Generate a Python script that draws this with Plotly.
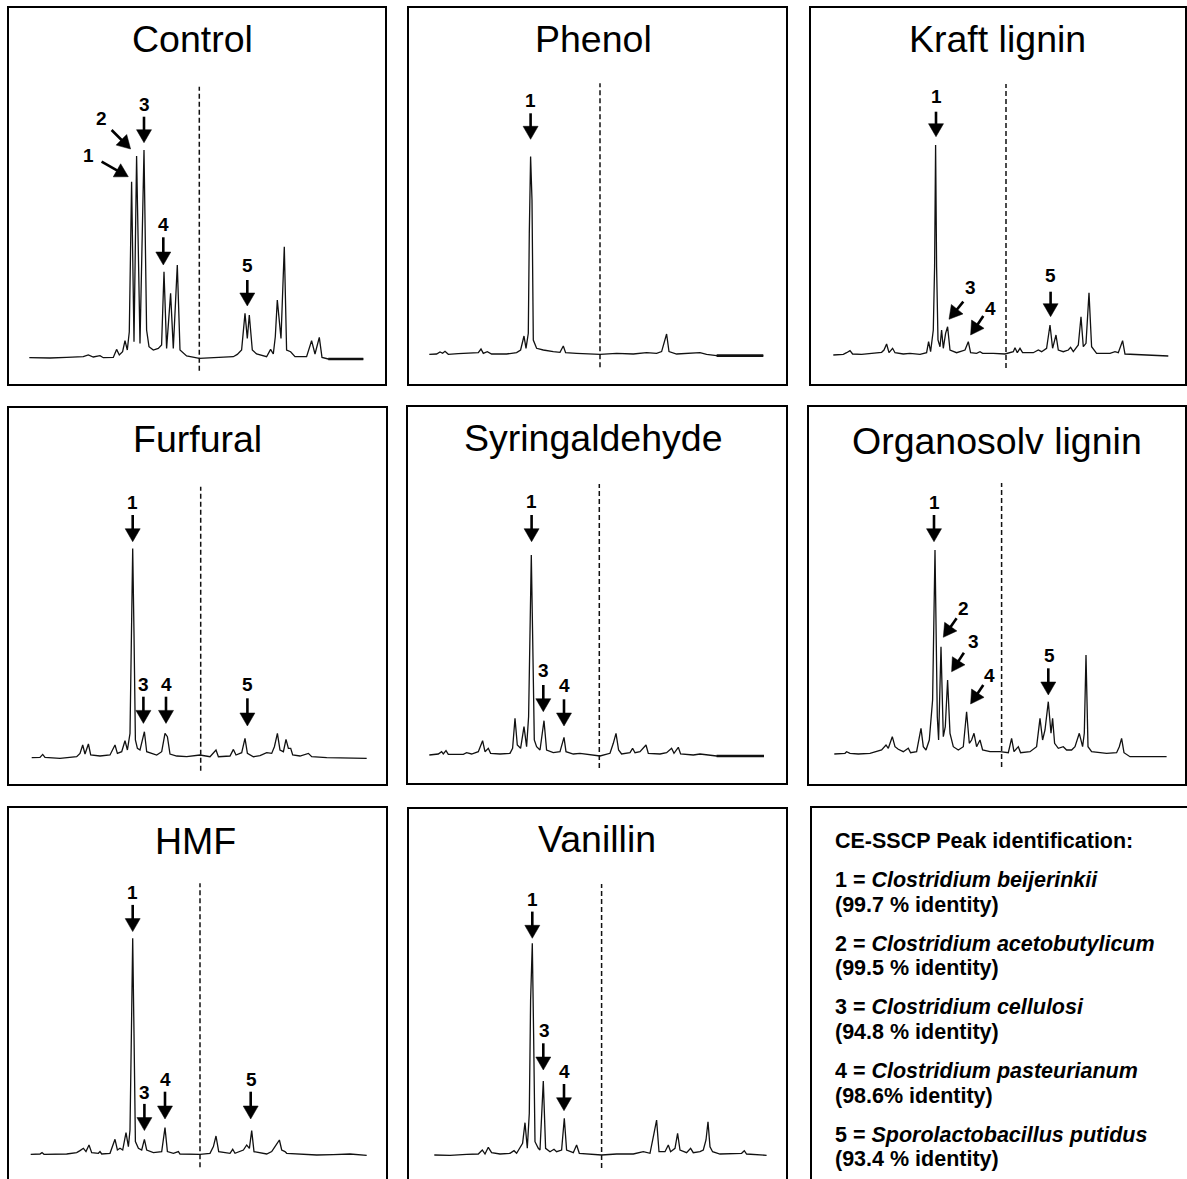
import math
import plotly.graph_objects as go

# ---------------------------------------------------------------------------
# CE-SSCP electropherograms (migration position vs. fluorescence, a.u.)
# ---------------------------------------------------------------------------
PANEL_TITLES = ["Control", "Phenol", "Kraft lignin", "Furfural",
                "Syringaldehyde", "Organosolv lignin", "HMF", "Vanillin"]

CONTROL_X = [0, 20.7, 37.3, 54, 59, 64, 70.7, 74, 84, 87.3, 90, 93.3, 95.7, 98, 100, 102.3,
             104.7, 107.3, 110.7, 114.7, 117.3, 119.7, 124, 129, 132.3, 134.7, 137.3, 141.3,
             144, 148, 150.7, 157.3, 170, 187.3, 204, 208, 212.3, 215.7, 218, 220, 223, 227.3,
             237.3, 241.3, 244, 246, 248, 251.7, 255, 257.3, 261.3, 265.7, 277.3, 282.3, 285.7,
             290, 292.7, 299, 334]
CONTROL_Y = [0, -0.3, 0.3, 1, 2.7, 0.7, 2, 0, 0.3, 8.3, 2.7, 6, 17, 7.7, 26, 176, 16, 201.7,
             14.3, 207.7, 27.7, 11, 7.7, 9.3, 12.7, 86, 9.3, 64.3, 9.3, 92.7, 7.7, 1.7, -0.7,
             0.3, 1, 3.3, 7.7, 44.3, 19.3, 42.7, 7.7, 3.7, 1, 8.3, 3.7, 21, 57.7, 19.3, 111,
             7.7, 6, 1, 1, 17, 3.7, 20.3, 0.3, -1.3, -1.3]

PHENOL_X = [0, 7.3, 10.7, 13.3, 15.7, 19, 29, 40.7, 49, 51.7, 54, 58, 62.3, 77.3, 87.3, 91.3,
            94.7, 96.7, 99, 100, 101.3, 102.7, 104, 107.3, 114, 124, 130.7, 134, 136.3, 147.3,
            157.3, 170.7, 187.3, 204, 217.3, 227.3, 232.3, 237.3, 239.7, 247.3, 270.7, 277.3,
            287.3, 334]
PHENOL_Y = [0, 0.3, 2.3, 1, 3, 0, 0.7, 1, 1.7, 5.3, 1, 2.7, 0.3, 0.3, 1.7, 4.3, 18.3, 6, 21,
            121, 197.7, 154.3, 14.3, 6, 4.3, 2.7, 2, 8.3, 1.7, 1, 0.3, 0, 1, 0.3, 1.7, 1, 2.7,
            20.3, 2.7, 0.3, 1.7, 0, -1.3, -1.3]

KRAFT_X = [0, 10, 13.3, 16.7, 19.3, 28.3, 48.3, 50.7, 53.3, 55.7, 59.3, 61.7, 70, 76.7, 86.7,
           93.3, 95.3, 97.3, 100, 101.3, 102.3, 103.3, 104.7, 106.7, 108.3, 110, 112.3, 114.3,
           116.7, 123.3, 131.7, 135, 137.3, 143.3, 146.7, 149.3, 160, 171.7, 180, 181.7, 184,
           186.7, 189.3, 200, 205, 208.3, 213.3, 216.7, 219.3, 222.7, 225, 230, 235, 237.3, 240,
           245, 247.7, 250, 252.7, 255.7, 258.3, 263.3, 276.7, 281.7, 285, 289.3, 291.7, 300, 335]
KRAFT_Y = [0, 0.7, 2.3, 4.3, 1, 0.7, 2.7, 5, 11, 2.3, 6.7, 2.3, 1, 1.7, 0.7, 2.3, 13.3, 3.3, 25,
           88.3, 210, 88.3, 15, 8.3, 25, 6.7, 21.7, 28.3, 5, 2.3, 5, 13.3, 2.3, 1.7, 3.3, 1.7,
           1.7, 1, 3.3, 7.3, 2.3, 6.7, 2.3, 2.3, 5, 3.3, 6.7, 30, 6.7, 20, 5, 3.3, 5, 7.7, 3.3,
           10, 38.3, 8.3, 11.7, 62.3, 8.3, 1.7, 1.7, 3.3, 2.3, 14.3, 1, 0.7, -1]

FURFURAL_X = [0, 8.3, 11, 13.3, 28.3, 45, 48.3, 51, 53.3, 56.7, 59, 68.3, 78.3, 83.3, 85.7, 90,
              93.3, 95.7, 98.3, 99.7, 101, 102.3, 103.7, 105.7, 108.3, 112.7, 115, 125, 130,
              133.3, 135.7, 138.3, 145, 155, 168.3, 178.3, 184.3, 186.7, 198.3, 201.7, 204.3,
              210, 213.3, 215.7, 221.7, 228.3, 235, 240, 242.7, 245.7, 248.3, 251.7, 254.3,
              256.7, 259, 261, 268.3, 276.7, 280, 295, 335]
FURFURAL_Y = [0, 0.3, 3.3, 0.3, -0.7, 1, 4.3, 12.7, 3.7, 13.7, 2.7, 1.7, 2.7, 12.7, 4.3, 6, 17,
              7.7, 24.3, 124.3, 209.3, 124.3, 17.7, 9.3, 7.7, 26, 6, 2.7, 6, 24.3, 21, 3.7, 1.7,
              1, 2.7, 1, 7.7, 1, 1.7, 8.3, 2.7, 5, 19.3, 4.3, 1, 2, 5, 4.3, 11, 24.3, 7.7, 6,
              18.3, 9.3, 9.3, 2.7, 1.7, 4.3, 1, 0, -0.7]

SYRINGALDEHYDE_X = [0, 9, 12.3, 14, 16.7, 19, 34, 37.3, 42.3, 49, 53.3, 55.7, 59, 61.3, 70.7,
                    80.7, 83.3, 85.7, 88, 91.3, 94.7, 97.3, 99.3, 100.7, 102, 103.3, 105, 107.3,
                    110.7, 114.7, 117.3, 124, 130.7, 134.7, 136.7, 144, 150.7, 170.7, 180.7, 184,
                    186.7, 189.3, 192.3, 200.7, 203.3, 205.7, 210.7, 216.7, 219, 230.7, 237.3,
                    242.3, 244.7, 249, 251.3, 264, 270.7, 287.3, 334.7]
SYRINGALDEHYDE_Y = [0, 1, 3.3, 1, 4.3, 0.7, 0.7, 2.3, 1, 3.3, 14.3, 3.3, 6.7, 1.7, 1, 1.7, 6.7,
                    36.7, 10, 6.7, 28.3, 8.3, 38.3, 125, 200, 121.7, 15, 8.3, 5, 34.3, 5, 2.3,
                    3.3, 17.7, 3.3, 1, 1.7, -1, 1.7, 11.7, 21.7, 5, 1, 2.3, 6.7, 2.3, 3.3, 10,
                    1.7, 1, 2.3, 6.7, 1.7, 7.7, 1, 0, 1, -1, -1]

ORGANOSOLV_X = [0, 10.7, 12.3, 15.7, 24, 35.7, 47.3, 51.7, 54, 58, 60.7, 64, 69, 74, 76.3, 82.3,
                86.7, 89, 91.7, 95, 98.3, 100.7, 103, 104.3, 106.7, 109, 111, 113.3, 115.7, 119,
                124, 129, 132.3, 135, 137.3, 139.7, 142.3, 145.7, 148.3, 155.7, 165.7, 174,
                177.3, 179.7, 184, 186.3, 195.7, 202.3, 205.7, 208.3, 210.7, 214, 216.7, 218.3,
                220.3, 224, 229, 232.3, 237.3, 240.7, 245, 248.3, 250, 251.7, 253.7, 257.3,
                272.3, 282.3, 285, 287.3, 289.7, 295.7, 332.3]
ORGANOSOLV_Y = [0, 0.7, 2.3, 0.7, 0, 0.7, 4, 9, 5.7, 17.3, 7.3, 4.7, 2.3, 5.7, 1.3, 2.3, 25.7,
                7.3, 4, 14, 54, 204, 37.3, 14, 107.3, 17.3, 27.3, 74, 20.7, 7.3, 4, 7.3, 42.3,
                10.7, 14, 20.7, 7.3, 14, 4, 2.3, 2.3, 1.3, 15.7, 2.3, 7.3, 1.3, 2.3, 7.3, 35.7,
                14, 24, 52.3, 20.7, 35.7, 10.7, 5.7, 7.3, 4, 4, 7.3, 20.7, 7.3, 20.7, 99, 7.3,
                2.3, 0.7, 1.3, 7.3, 15.7, 1.3, -2.7, -2.7]

HMF_X = [0, 9.3, 11.3, 13.3, 36, 46, 49.3, 52.7, 55.3, 58.3, 61, 67.7, 69.3, 71, 79.3, 84.3,
         86.7, 89.3, 92, 95.3, 97.7, 99.3, 100.7, 102, 103.3, 104.7, 107.7, 111, 113.7, 116,
         122.7, 131, 134.3, 136.7, 142.7, 147.7, 149.3, 169.3, 179.3, 182.7, 185.3, 188, 199.3,
         202, 204.3, 212.7, 216, 218.7, 221, 223.3, 236, 241, 244.3, 248.7, 251, 254.3, 256,
         269.3, 286, 302.7, 319.3, 336]
HMF_Y = [0, 0.3, 1.7, 0, 0.3, 1.7, 3.7, 6, 2.7, 9.3, 1.7, 1, 2.7, 0.3, 1, 15, 4.3, 6, 4.3, 21.7,
         7.7, 24.3, 121, 216, 121, 12.7, 6, 4.3, 15, 4.3, 1.7, 2.7, 26.7, 2.7, 1, 2.7, 0.3, 0,
         1, 7.7, 18.3, 2.7, 1, 5, 1, 4.3, 9.3, 6, 23.7, 2.7, 0.3, 2.7, 7.7, 14.3, 4.3, 2.7, 1,
         0.3, -0.7, -0.3, 0.3, -1]

VANILLIN_X = [0, 15.7, 32.3, 44, 48, 50.7, 54, 57.3, 65.7, 75.7, 79.7, 82.3, 88.3, 90.7, 93, 95,
              96.3, 98, 99.3, 100.7, 104, 105.7, 109, 111.3, 115.7, 119.7, 122.3, 127.3, 130,
              132.3, 139, 142.3, 145, 152.3, 167.3, 182.3, 199, 209, 215.7, 219.7, 222.3, 224.7,
              230.7, 234, 236.3, 240.7, 243.3, 245.7, 252.3, 256.3, 259, 265.7, 269, 271.7,
              273.7, 275.7, 278.3, 285.7, 299, 307.3, 310, 312.3, 332.3]
VANILLIN_Y = [0, -0.3, 0.7, 1, 5, 1, 7.7, 2.3, 1, 1.7, 4.3, 1.7, 11.7, 32.3, 6.7, 41.7, 155,
              211.7, 121.7, 13.3, 6.7, 5, 74, 6.7, 3.3, 5.7, 3.3, 5, 36.7, 5, 2.3, 10, 1.7, 1, 0,
              1, 1, 3.3, 1.7, 21.7, 35, 3.3, 3.3, 10, 3.3, 6.7, 21.7, 5, 2.3, 6.7, 2.3, 3.3, 5,
              15, 33.3, 8.3, 3.3, 1, 1, 1.7, 4.3, 1, -0.3]

SERIES_X = [CONTROL_X, PHENOL_X, KRAFT_X, FURFURAL_X, SYRINGALDEHYDE_X, ORGANOSOLV_X,
            HMF_X, VANILLIN_X]
SERIES_Y = [CONTROL_Y, PHENOL_Y, KRAFT_Y, FURFURAL_Y, SYRINGALDEHYDE_Y, ORGANOSOLV_Y,
            HMF_Y, VANILLIN_Y]

# migration position of the dashed reference line in each run
DIVIDER_POS = [170, 170.7, 172.7, 169, 170, 167.3, 169.3, 167.3]

# peak identification table
ID_HEADER = "CE-SSCP Peak identification:"
PEAK_NUMBERS = ["1", "2", "3", "4", "5"]
PEAK_SPECIES = ["Clostridium beijerinkii", "Clostridium acetobutylicum",
                "Clostridium cellulosi", "Clostridium pasteurianum",
                "Sporolactobacillus putidus"]
PEAK_IDENTITY = ["(99.7 % identity)", "(99.5 % identity)", "(94.8 % identity)",
                 "(98.6% identity)", "(93.4 % identity)"]

# ---------------------------------------------------------------------------
# Page layout (pixels)
# ---------------------------------------------------------------------------
W, H = 1187, 1179
FONT = "Liberation Sans, Arial, Helvetica, sans-serif"

# frame boxes: left, top, right, bottom
BOXES = [(8, 7, 386, 385), (408, 7, 787, 385), (810, 7, 1186, 385),
         (8, 407, 387, 785), (407, 406, 787, 784), (808, 406, 1186, 785),
         (8, 807, 387, 1195), (408, 808, 787, 1195)]
ID_BOX = (811, 807, 1200, 1195)
# trace origin (start of run, baseline) on the page
ORIGINS = [(29.3, 357.7), (429.3, 354.3), (833.3, 355.0), (31.7, 757.7),
           (429.3, 755.0), (834.3, 754.0), (30.7, 1154.3), (434.3, 1155.0)]
# title centres
TITLE_POS = [(192, 39), (593, 39), (998, 39), (197, 439), (594, 438), (997, 441),
             (195, 841), (597, 839)]
# tail segments drawn heavier (flat end of run)
HEAVY_TAIL = {0, 1, 4}

# peak arrows: label, tip (x, y), tail offset (dx, dy) px (dy downward), label centre (x, y)
ARROWS = [
    [("1", 99, 181, -26.7, -15, 59, 202.7), ("2", 101.3, 208.7, -19, -19, 72.3, 239.3),
     ("3", 114.7, 215, 0, -26, 114.7, 253.7), ("4", 134, 92.7, 0, -27.7, 134, 133.7),
     ("5", 218, 51.7, 0, -26, 218, 92.7)],
    [("1", 101.3, 215, 0, -26, 101.3, 254.3)],
    [("1", 102.7, 218.3, 0, -25, 102.7, 258.3), ("3", 115.7, 35.7, 14.3, -17.7, 136.7, 67.7),
     ("4", 137.3, 20, 12.7, -19, 156.7, 46.7), ("5", 217.3, 38.3, 0, -25, 217.3, 80)],
    [("1", 101, 216, 0, -26.7, 101, 255), ("3", 111.7, 34.3, 0, -26.7, 111.7, 72.7),
     ("4", 134.3, 34.3, 0, -26.7, 134.3, 72.7), ("5", 215.7, 31.7, 0, -27.7, 215.7, 73.3)],
    [("1", 102.3, 213.3, 0, -26.7, 102.3, 253.3), ("3", 114, 43.3, 0, -26.7, 114, 84.3),
     ("4", 134.7, 29, 0, -26.7, 134.7, 70)],
    [("1", 99.7, 212.3, 0, -26.7, 99.7, 251.3), ("2", 109, 116.7, 13.3, -19, 129, 145.7),
     ("3", 117.3, 82.3, 12.3, -19, 139, 112.3), ("4", 136.3, 50, 12.7, -19, 155, 79),
     ("5", 214, 59, 0, -26.7, 215, 99)],
    [("1", 102, 222.7, 0, -26.7, 102, 261.7), ("3", 113.7, 23.7, 0, -26.7, 113.7, 62),
     ("4", 134.3, 35.3, 0, -27.3, 134.3, 75), ("5", 220, 35.3, 0, -27.3, 221, 75)],
    [("1", 98, 216.7, 0, -26.7, 98, 255.7), ("3", 109, 85, 0, -26.7, 109.7, 125),
     ("4", 129.7, 44.3, 0, -26.7, 129.7, 83.3)],
]

DIV_LO, DIV_HI = -13, 271
HEAD_LEN, HEAD_HALF, SHAFT_W = 13.0, 7.5, 2.6


def px(x):
    return x / W


def py(y):
    return 1 - y / H


fig = go.Figure()
shapes, annotations = [], []
layout_axes = {}

for i, title in enumerate(PANEL_TITLES):
    n = i + 1
    sfx = "" if n == 1 else str(n)
    xref, yref = f"x{sfx}", f"y{sfx}"
    left, top, right, bottom = BOXES[i]
    ox, oy = ORIGINS[i]
    bot_vis = min(bottom, H)

    # one data unit == one pixel on both axes
    layout_axes[f"xaxis{sfx}"] = dict(
        domain=[px(left), px(right)], range=[left - ox, right - ox],
        visible=False, fixedrange=True, anchor=yref)
    layout_axes[f"yaxis{sfx}"] = dict(
        domain=[py(bot_vis), py(top)], range=[oy - bot_vis, oy - top],
        visible=False, fixedrange=True, anchor=xref)

    xs, ys = SERIES_X[i], SERIES_Y[i]
    fig.add_trace(go.Scatter(x=xs, y=ys, mode="lines", xaxis=xref, yaxis=yref,
                             line=dict(color="#111111", width=1.3), hoverinfo="skip",
                             showlegend=False))
    if i in HEAVY_TAIL:
        fig.add_trace(go.Scatter(x=xs[-2:], y=ys[-2:], mode="lines", xaxis=xref, yaxis=yref,
                                 line=dict(color="#111111", width=2.6), hoverinfo="skip",
                                 showlegend=False))
    d = DIVIDER_POS[i]
    fig.add_trace(go.Scatter(x=[d, d], y=[DIV_LO, DIV_HI], mode="lines", xaxis=xref,
                             yaxis=yref, line=dict(color="#111111", width=1.5, dash="5px,3px"),
                             hoverinfo="skip", showlegend=False))

    # frame
    shapes.append(dict(type="rect", xref="paper", yref="paper",
                       x0=px(left), x1=px(right), y0=py(bottom), y1=py(top),
                       line=dict(color="black", width=2), layer="above"))
    # title
    tx, ty = TITLE_POS[i]
    annotations.append(dict(text=title, x=px(tx), y=py(ty), xref="paper", yref="paper",
                            xanchor="center", yanchor="middle", showarrow=False,
                            font=dict(family=FONT, size=37.5, color="black")))
    # peak arrows (shaft + filled head) with numbers
    for lab, tipx, tipy, dx, dy, lx, ly in ARROWS[i]:
        tailx, taily = tipx + dx, tipy - dy
        vx, vy = tipx - tailx, tipy - taily
        ln = math.hypot(vx, vy)
        ux, uy = vx / ln, vy / ln
        bx, by = tipx - ux * HEAD_LEN, tipy - uy * HEAD_LEN
        nx, ny = -uy, ux
        shapes.append(dict(type="line", xref=xref, yref=yref, x0=tailx, y0=taily,
                           x1=bx + ux * 1.0, y1=by + uy * 1.0,
                           line=dict(color="black", width=SHAFT_W)))
        path = (f"M{tipx},{tipy} L{bx + nx * HEAD_HALF},{by + ny * HEAD_HALF} "
                f"L{bx - nx * HEAD_HALF},{by - ny * HEAD_HALF} Z")
        shapes.append(dict(type="path", xref=xref, yref=yref, path=path,
                           fillcolor="black", line=dict(color="black", width=0.5)))
        annotations.append(dict(text=f"<b>{lab}</b>", x=lx, y=ly, xref=xref, yref=yref,
                                xanchor="center", yanchor="middle", showarrow=False,
                                font=dict(family=FONT, size=19, color="black")))

# identification table
l, t, r, b = ID_BOX
shapes.append(dict(type="rect", xref="paper", yref="paper", x0=px(l), x1=px(r),
                   y0=py(b), y1=py(t), line=dict(color="black", width=2), layer="above"))
TEXT_X = 833
ID_FONT = dict(family=FONT, size=21.5, color="black")
annotations.append(dict(text=f"<b>{ID_HEADER}</b>", x=px(TEXT_X), y=py(840.5),
                        xref="paper", yref="paper", xanchor="left", yanchor="middle",
                        showarrow=False, font=ID_FONT))
for k, (num, sp, ident) in enumerate(zip(PEAK_NUMBERS, PEAK_SPECIES, PEAK_IDENTITY)):
    y1 = 880 + k * 63.7
    annotations.append(dict(text=f"<b>{num} = <i>{sp}</i></b>", x=px(TEXT_X), y=py(y1),
                            xref="paper", yref="paper", xanchor="left", yanchor="middle",
                            showarrow=False, font=ID_FONT))
    annotations.append(dict(text=f"<b>{ident}</b>", x=px(TEXT_X), y=py(y1 + 24.5),
                            xref="paper", yref="paper", xanchor="left", yanchor="middle",
                            showarrow=False, font=ID_FONT))

fig.update_layout(
    width=W, height=H, margin=dict(l=0, r=0, t=0, b=0),
    paper_bgcolor="white", plot_bgcolor="rgba(0,0,0,0)",
    showlegend=False, shapes=shapes, annotations=annotations,
    **layout_axes)

fig.write_html("out.html", config={"displayModeBar": False})
